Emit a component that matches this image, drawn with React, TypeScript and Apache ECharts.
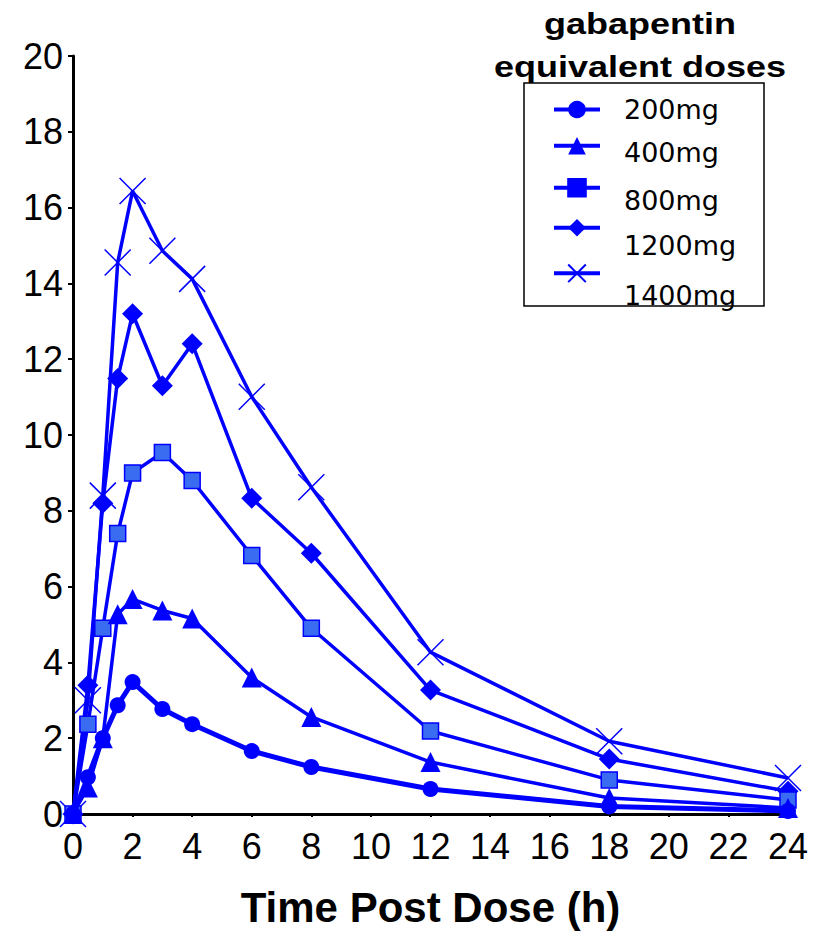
import React, { useEffect, useRef } from "react";
import * as echarts from "echarts";

const times = [0, 0.5, 1, 1.5, 2, 3, 4, 6, 8, 12, 18, 24];
const dose200 = [0, 0.97, 2.0, 2.87, 3.48, 2.77, 2.37, 1.66, 1.24, 0.66, 0.2, 0.08];
const dose400 = [0, 0.7, 2.0, 5.27, 5.67, 5.37, 5.16, 3.6, 2.56, 1.37, 0.42, 0.16];
const dose800 = [0, 2.37, 4.9, 7.4, 9.0, 9.54, 8.8, 6.82, 4.9, 2.19, 0.9, 0.37];
const dose1200 = [0, 3.4, 8.2, 11.49, 13.2, 11.3, 12.41, 8.33, 6.88, 3.27, 1.45, 0.6];
const dose1400 = [0, 3.0, 8.4, 14.55, 16.44, 14.86, 14.12, 11.01, 8.62, 4.27, 1.92, 0.95];
const seriesNames = ["200mg", "400mg", "800mg", "1200mg", "1400mg"];
const xTicks = { min: 0, max: 24, interval: 2 };
const yTicks = { min: 0, max: 20, interval: 2 };
const xTitle = "Time Post Dose (h)";
const legendTitle = "gabapentin\nequivalent doses";

const BLUE = "#0000ff";

export default function App() {
  const ref = useRef<HTMLDivElement>(null);
  useEffect(() => {
    if (!ref.current) return;
    const chart = echarts.init(ref.current, null, { renderer: "svg" });
    const values = [dose200, dose400, dose800, dose1200, dose1400];
    const symbols = ["circle", "triangle", "rect", "diamond", "path://M0,0L20,20M20,0L0,20"];
    const sizes = [16, 20, 16, 21, 26];
    const widths = [5, 3.5, 3.5, 3.5, 3.5];
    const series = seriesNames.map((name, i) => ({
      name,
      type: "line",
      data: times.map((t, j) => [t, values[i][j]]),
      symbol: symbols[i],
      symbolSize: sizes[i],
      lineStyle: { color: BLUE, width: widths[i] },
      itemStyle:
        i === 4
          ? { color: "none", borderColor: BLUE, borderWidth: 1.5 }
          : i === 2
          ? { color: "#3a6cf2", borderColor: BLUE, borderWidth: 1.5 }
          : { color: BLUE },
      z: 10 - i,
    }));
    const symCenters = [107, 148, 189, 230, 273];
    const textShift = [0, 7, 13, 18, 22];
    const itemH = 22;
    const legends = seriesNames.map((name, i) => ({
      data: [
        i === 2
          ? { name, itemStyle: { color: BLUE, borderColor: BLUE } }
          : i === 4
          ? { name, itemStyle: { color: "none", borderColor: BLUE, borderWidth: 2 } }
          : { name },
      ],
      left: 552,
      top: symCenters[i] - itemH / 2,
      padding: 0,
      itemWidth: 46,
      itemHeight: itemH,
      selectedMode: false,
      lineStyle: { width: 4 },
      formatter: (n: string) => `{t|${n}}`,
      textStyle: {
        rich: {
          t: {
            fontFamily: "DejaVu Sans",
            fontSize: 27,
            color: "#000",
            padding: [textShift[i] * 2, 0, 0, 19],
          },
        },
      },
    }));
    chart.setOption({
      animation: false,
      backgroundColor: "#fff",
      grid: { left: 73, right: 33, top: 56, bottom: 120 },
      xAxis: {
        type: "value",
        min: xTicks.min,
        max: xTicks.max,
        interval: xTicks.interval,
        name: xTitle,
        nameLocation: "middle",
        nameGap: 72,
        nameTextStyle: {
          fontFamily: "Liberation Sans, Arial",
          fontSize: 42,
          fontWeight: "bold",
          color: "#000",
        },
        axisLine: { lineStyle: { color: "#000", width: 3 } },
        axisTick: { length: 3, lineStyle: { color: "#000", width: 2 } },
        axisLabel: {
          fontFamily: "Liberation Sans, Arial",
          fontSize: 36,
          color: "#000",
          margin: 14,
        },
        splitLine: { show: false },
      },
      yAxis: {
        type: "value",
        min: yTicks.min,
        max: yTicks.max,
        interval: yTicks.interval,
        axisLine: { show: true, lineStyle: { color: "#000", width: 3 } },
        axisTick: { show: true, length: 5, lineStyle: { color: "#000", width: 2 } },
        axisLabel: {
          fontFamily: "Liberation Sans, Arial",
          fontSize: 36,
          color: "#000",
          margin: 10,
        },
        splitLine: { show: false },
      },
      legend: legends,
      graphic: [
        {
          type: "rect",
          shape: { x: 524, y: 83, width: 240, height: 223 },
          style: { fill: "none", stroke: "#000", lineWidth: 1.5 },
          z: 0,
        },
        {
          type: "text",
          x: 640,
          y: 2,
          scaleX: 1.2,
          style: {
            text: legendTitle,
            fontFamily: "Liberation Sans, Arial",
            fontSize: 30,
            fontWeight: "bold",
            fill: "#000",
            textAlign: "center",
            lineHeight: 43,
          },
        },
      ],
      series,
    });
    return () => chart.dispose();
  }, []);
  return (
    <div
      ref={ref}
      style={{ position: "fixed", left: 0, top: 0, width: 821, height: 934 }}
    />
  );
}
